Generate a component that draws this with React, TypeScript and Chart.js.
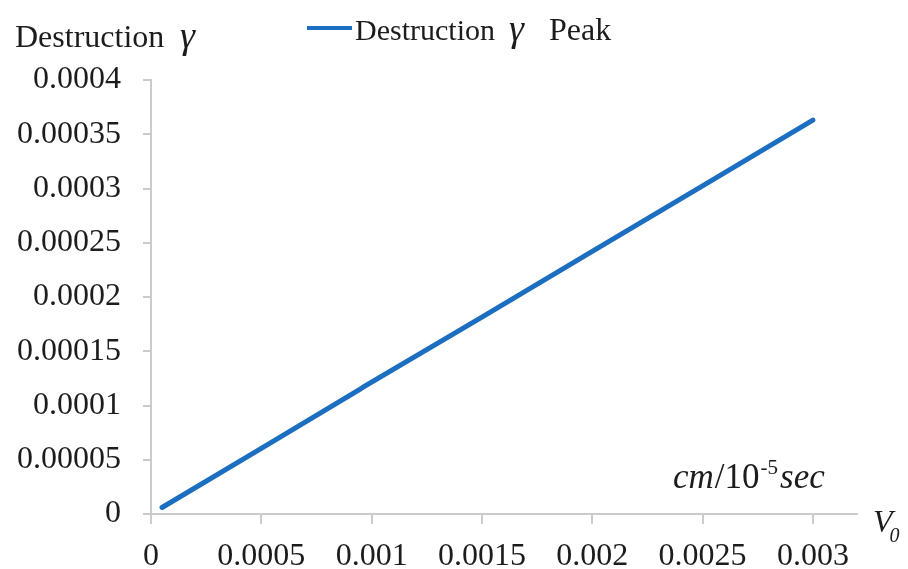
import React, { useEffect, useRef } from "react";
import { Chart, registerables } from "chart.js";

Chart.register(...registerables);

const V0_VALUES = [0.00005, 0.0005, 0.00095, 0.00096, 0.0015, 0.002, 0.0025, 0.003];
const GAMMA_PEAK = [0.000006, 0.0000605, 0.0001152, 0.0001168, 0.0001815, 0.000242, 0.0003025, 0.000363];

const X_TICKS = [0, 0.0005, 0.001, 0.0015, 0.002, 0.0025, 0.003];
const X_TICK_LABELS = ["0", "0.0005", "0.001", "0.0015", "0.002", "0.0025", "0.003"];
const Y_TICKS = [0, 0.00005, 0.0001, 0.00015, 0.0002, 0.00025, 0.0003, 0.00035, 0.0004];
const Y_TICK_LABELS = ["0", "0.00005", "0.0001", "0.00015", "0.0002", "0.00025", "0.0003", "0.00035", "0.0004"];

const SERIES_LABEL = "Destruction";
const Y_TITLE = "Destruction";
const GREEK = "γ";
const X_TITLE = "V";
const X_TITLE_SUB = "0";

const LINE_COLOR = "#1b6ec0";
const AXIS_COLOR = "#cbcbcb";
const TEXT_COLOR = "#1c1c1c";
const FONT = "'Liberation Serif', 'Times New Roman', serif";

const textPlugin = {
  id: "customTexts",
  afterDraw(chart: any) {
    const ctx = chart.ctx as CanvasRenderingContext2D;
    ctx.save();
    ctx.fillStyle = TEXT_COLOR;
    ctx.textBaseline = "alphabetic";
    ctx.textAlign = "left";

    // y-axis title
    ctx.font = `32px ${FONT}`;
    ctx.fillText(Y_TITLE, 15, 47);
    ctx.font = `italic 38px ${FONT}`;
    ctx.fillText(GREEK, 180, 48);

    // legend
    const ds = chart.data.datasets[0];
    ctx.strokeStyle = ds.borderColor;
    ctx.lineWidth = 4;
    ctx.beginPath();
    ctx.moveTo(307, 28);
    ctx.lineTo(352, 28);
    ctx.stroke();
    ctx.font = `30px ${FONT}`;
    ctx.fillText(SERIES_LABEL, 355, 40);
    ctx.font = `italic 38px ${FONT}`;
    ctx.fillText(GREEK, 509, 41);
    ctx.font = `32px ${FONT}`;
    ctx.fillText("Peak", 549, 40);

    // units
    let x = 673;
    const by = 488;
    ctx.font = `italic 35px ${FONT}`;
    ctx.fillText("cm", x, by);
    x += ctx.measureText("cm").width + 1;
    ctx.font = `35px ${FONT}`;
    ctx.fillText("/10", x, by);
    x += ctx.measureText("/10").width + 1;
    ctx.font = `21px ${FONT}`;
    ctx.fillText("-5", x, by - 14);
    x += ctx.measureText("-5").width + 2;
    ctx.font = `italic 35px ${FONT}`;
    ctx.fillText("sec", x, by);

    // x-axis title
    ctx.font = `italic 32px ${FONT}`;
    ctx.fillText(X_TITLE, 873, 532);
    const vw = ctx.measureText(X_TITLE).width;
    ctx.font = `italic 20px ${FONT}`;
    ctx.fillText(X_TITLE_SUB, 873 + vw - 3, 542);

    ctx.restore();
  },
};

export default function App() {
  const ref = useRef<HTMLCanvasElement>(null);

  useEffect(() => {
    if (!ref.current) return;
    const chart = new Chart(ref.current, {
      type: "scatter",
      data: {
        datasets: [
          {
            label: "Destruction γ Peak",
            data: V0_VALUES.map((v, i) => ({ x: v, y: GAMMA_PEAK[i] })),
            showLine: true,
            borderColor: LINE_COLOR,
            backgroundColor: LINE_COLOR,
            borderWidth: 5,
            pointRadius: 0,
            borderCapStyle: "round",
            tension: 0,
          },
        ],
      },
      options: {
        animation: false,
        responsive: false,
        maintainAspectRatio: false,
        layout: { padding: { top: 80, right: 51, left: 0, bottom: 0 } },
        plugins: {
          legend: { display: false },
          title: { display: false },
          tooltip: { enabled: false },
        },
        scales: {
          x: {
            type: "linear",
            min: 0,
            max: 0.0032,
            afterBuildTicks: (scale: any) => {
              scale.ticks = X_TICKS.map((v) => ({ value: v }));
            },
            afterFit: (scale: any) => {
              scale.height = 55;
            },
            grid: {
              drawOnChartArea: false,
              drawTicks: true,
              tickLength: 10,
              color: AXIS_COLOR,
              lineWidth: 2,
            },
            border: { display: true, color: AXIS_COLOR, width: 2 },
            ticks: {
              autoSkip: false,
              maxRotation: 0,
              padding: 13,
              color: TEXT_COLOR,
              font: { family: FONT, size: 32 },
              callback: (_v: any, i: number) => X_TICK_LABELS[i],
            },
          },
          y: {
            type: "linear",
            min: 0,
            max: 0.0004,
            afterBuildTicks: (scale: any) => {
              scale.ticks = Y_TICKS.map((v) => ({ value: v }));
            },
            afterFit: (scale: any) => {
              scale.width = 151;
            },
            grid: {
              drawOnChartArea: false,
              drawTicks: true,
              tickLength: 8,
              color: AXIS_COLOR,
              lineWidth: 2,
            },
            border: { display: true, color: AXIS_COLOR, width: 2 },
            ticks: {
              autoSkip: false,
              padding: 22,
              color: TEXT_COLOR,
              font: { family: FONT, size: 32 },
              callback: (_v: any, i: number) => Y_TICK_LABELS[i],
            },
          },
        },
      },
      plugins: [textPlugin],
    });
    return () => chart.destroy();
  }, []);

  return (
    <div style={{ position: "fixed", left: 0, top: 0, width: 908, height: 569, background: "#fff" }}>
      <canvas ref={ref} width={908} height={569} style={{ width: 908, height: 569 }} />
    </div>
  );
}
